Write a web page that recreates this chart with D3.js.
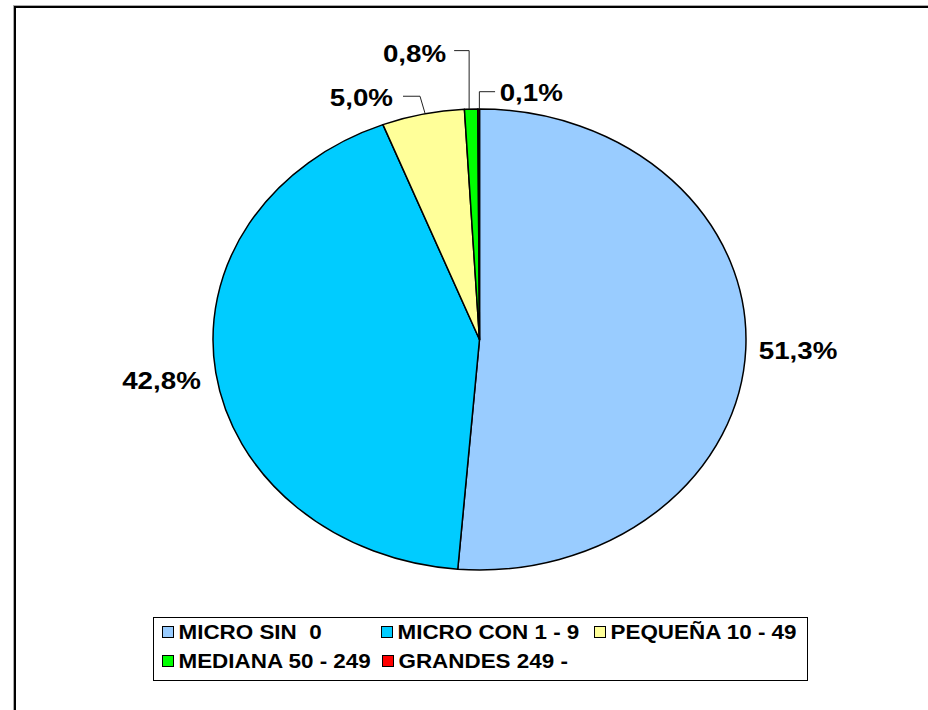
<!DOCTYPE html>
<html><head><meta charset="utf-8">
<script src="https://cdn.jsdelivr.net/npm/d3@7"></script>
<style>body{margin:0;background:#fff}svg{display:block}text{font-family:"Liberation Sans",Arial,sans-serif;font-weight:bold;fill:#000}</style>
</head><body>
<script>
// ---- data ----
const categories = ["MICRO SIN  0", "MICRO CON 1 - 9", "PEQUEÑA 10 - 49", "MEDIANA 50 - 249", "GRANDES 249 -"];
const values = [51.3, 42.8, 5.0, 0.8, 0.1];
const valueLabels = ["51,3%", "42,8%", "5,0%", "0,8%", "0,1%"];
const colors = ["#99CCFF", "#00CCFF", "#FFFF99", "#00FF00", "#FF0000"];

// ---- layout ----
const W = 928, H = 710;
const cx = 479.5, cy = 339.5, rx = 266.5, ry = 230.5;
const LSX = 1.18, GSX = 1.15; // horizontal text stretch (labels, legend)
// label placement relative to slice edge point at mid angle
const labelLayout = [
  {dx: 13, dy: 2, anchor: "start", line: null},
  {dx: -15, dy: 8, anchor: "end", line: null},
  {dx: -30, dy: -17, anchor: "end", line: [[2, -1], [-3, -18], [-20, -18]]},
  {dx: -25, dy: -56, anchor: "end", line: [[-2, 0], [-2, -58.5], [-17, -58.5]]},
  {dx: 21, dy: -16, anchor: "start", line: [[0.7, 0], [0.7, -17.3], [16.4, -17.3]]}
];
const legendBox = {x: 153.5, y: 617.5, w: 654, h: 63};
const legendRows = [632, 661];
const legendPos = [[0, 9], [0, 228], [0, 441], [1, 9], [1, 229]];

const svg = d3.select("body").append("svg").attr("width", W).attr("height", H);

// chart frame
svg.append("rect").attr("x", 13.5).attr("y", 5.5).attr("width", 1000).attr("height", 1000)
  .attr("fill", "none").attr("stroke", "#aaa").attr("stroke-width", 1);
svg.append("rect").attr("x", 15).attr("y", 7).attr("width", 1000).attr("height", 1000)
  .attr("fill", "none").attr("stroke", "#000").attr("stroke-width", 2);

const pie = d3.pie().sort(null).value(d => d);
const arcs = pie(values);
const px = a => cx + rx * Math.sin(a);
const py = a => cy - ry * Math.cos(a);
function slicePath(d) {
  const large = (d.endAngle - d.startAngle) > Math.PI ? 1 : 0;
  return `M${cx},${cy}L${px(d.startAngle)},${py(d.startAngle)}A${rx},${ry} 0 ${large} 1 ${px(d.endAngle)},${py(d.endAngle)}Z`;
}

svg.append("g").selectAll("path").data(arcs).join("path")
  .attr("d", slicePath)
  .attr("fill", (d, i) => colors[i])
  .attr("stroke", "#000").attr("stroke-width", 1.5).attr("stroke-linejoin", "round");

// labels
const lg = svg.append("g");
arcs.forEach((d, i) => {
  const m = (d.startAngle + d.endAngle) / 2;
  const ax = px(m), ay = py(m);
  const L = labelLayout[i];
  if (L.line) {
    lg.append("polyline")
      .attr("points", L.line.map(p => [ax + p[0], ay + p[1]].join(",")).join(" "))
      .attr("fill", "none").attr("stroke", "#222").attr("stroke-width", 1);
  }
  lg.append("g").attr("transform", `translate(${ax + L.dx},${ay + L.dy}) scale(${LSX},1)`)
    .append("text").attr("text-anchor", L.anchor).attr("dy", "0.36em")
    .style("font-size", "23.5px").text(valueLabels[i]);
});

// legend
const leg = svg.append("g");
leg.append("rect").attr("x", legendBox.x).attr("y", legendBox.y).attr("width", legendBox.w).attr("height", legendBox.h)
  .attr("fill", "#fff").attr("stroke", "#000").attr("stroke-width", 1);
categories.forEach((c, i) => {
  const [r, ox] = legendPos[i];
  const x = legendBox.x + ox, y = legendRows[r];
  leg.append("rect").attr("x", x).attr("y", y - 5.5).attr("width", 11).attr("height", 11)
    .attr("fill", colors[i]).attr("stroke", "#000").attr("stroke-width", 1);
  leg.append("g").attr("transform", `translate(${x + 16},${y}) scale(${GSX},1)`)
    .append("text").attr("dy", "0.36em").style("font-size", "19.5px").style("white-space", "pre")
    .attr("xml:space", "preserve").text(c);
});
</script>
</body></html>
